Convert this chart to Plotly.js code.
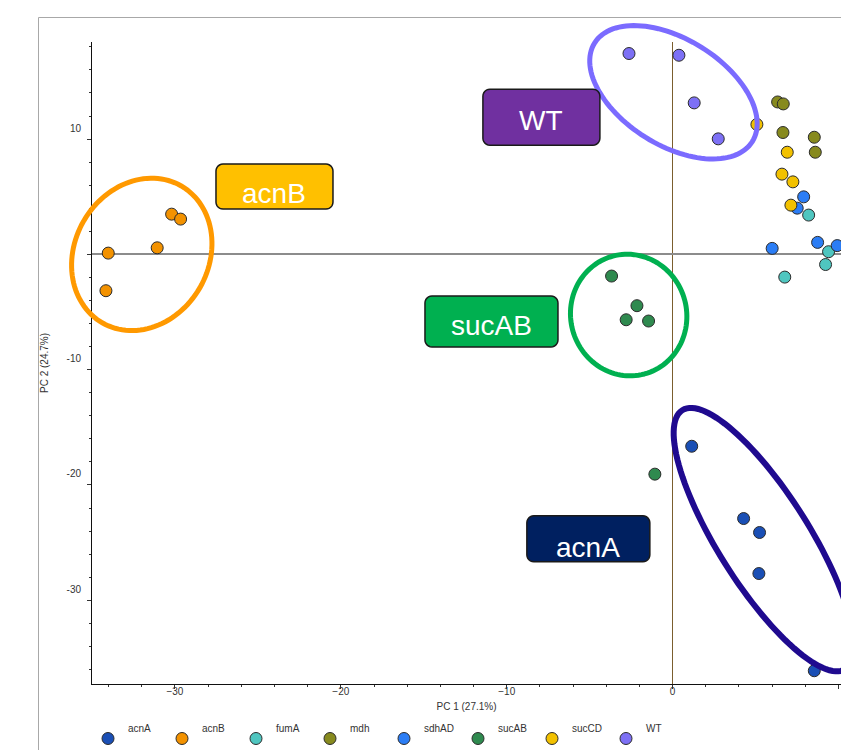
<!DOCTYPE html>
<html>
<head>
<meta charset="utf-8">
<script src="https://cdn.plot.ly/plotly-3.0.1.min.js"></script>
<style>
  html, body { margin: 0; padding: 0; background: #ffffff; }
  #chart { width: 841px; height: 750px; }
</style>
</head>
<body>
<div id="chart"></div>
<script>
// ---------------- DATA ----------------
const groups = ['acnA', 'acnB', 'fumA', 'mdh', 'sdhAD', 'sucAB', 'sucCD', 'WT'];

const acnA_x  = [1.15, 4.28, 5.24, 5.20, 8.54];
const acnA_y  = [-16.64, -22.91, -24.12, -27.68, -36.11];

const acnB_x  = [-30.20, -29.66, -31.07, -34.02, -34.16];
const acnB_y  = [3.49, 3.06, 0.57, 0.11, -3.15];

const fumA_x  = [8.20, 9.40, 9.22, 6.76];
const fumA_y  = [3.41, 0.23, -0.88, -1.97];

const mdh_x   = [6.33, 6.67, 6.65, 8.54, 8.60];
const mdh_y   = [13.22, 13.05, 10.57, 10.16, 8.86];

const sdhAD_x = [7.90, 7.51, 6.00, 8.74, 9.92];
const sdhAD_y = [4.99, 4.01, 0.52, 1.04, 0.76];

const sucAB_x = [-3.68, -2.15, -2.80, -1.45, -1.07];
const sucAB_y = [-1.88, -4.45, -5.67, -5.78, -19.06];

const sucCD_x = [5.08, 6.91, 6.59, 7.25, 7.13];
const sucCD_y = [11.27, 8.86, 6.96, 6.29, 4.27];

const WT_x    = [-2.63, 0.38, 1.30, 2.75];
const WT_y    = [17.42, 17.27, 13.14, 10.02];

const xTitle = 'PC 1 (27.1%)';
const yTitle = 'PC 2 (24.7%)';
const yTickVals = [-30, -20, -10, 0, 10];
const yTickText = ['-30', '-20', '-10', '', '10'];

// ---------------- STYLE ----------------
const groupColors = {
  acnA: '#1a4fb5', acnB: '#f39200', fumA: '#4fc6c0', mdh: '#878a1e',
  sdhAD: '#2b7df5', sucAB: '#2f8a4f', sucCD: '#f2c100', WT: '#7d70f5'
};
const groupX = { acnA: acnA_x, acnB: acnB_x, fumA: fumA_x, mdh: mdh_x, sdhAD: sdhAD_x, sucAB: sucAB_x, sucCD: sucCD_x, WT: WT_x };
const groupY = { acnA: acnA_y, acnB: acnB_y, fumA: fumA_y, mdh: mdh_y, sdhAD: sdhAD_y, sucAB: sucAB_y, sucCD: sucCD_y, WT: WT_y };

const W = 841, H = 750;
const margin = { l: 92, r: 0, t: 42, b: 66, pad: 0 };
const xRange = [-35, 10.15];
const yRange = [-37.26, 18.42];
const plotW = W - margin.l - margin.r;
const plotH = H - margin.t - margin.b;
const sx = plotW / (xRange[1] - xRange[0]); // px per x unit
const sy = plotH / (yRange[1] - yRange[0]); // px per y unit

const FONT = 'Liberation Sans, Arial, sans-serif';

// group ellipses: centre in data units, semi-axes in px, angle in degrees (screen, clockwise)
const ellipses = [
  { cx: -32.0, cy: 0.0,    a: 79,  b: 67,   angle: -60,  color: '#ff9900', width: 5 },
  { cx: 0.05,  cy: 14.06,  a: 93,  b: 53,   angle: 32,   color: '#7b6bff', width: 5 },
  { cx: -2.65, cy: -5.26,  a: 61,  b: 58,   angle: 75,   color: '#00b050', width: 5 },
  { cx: 5.50,  cy: -24.74, a: 153, b: 45.6, angle: 57.8, color: '#1f0a8f', width: 6 }
];

// group label boxes: centre in data units, size in px
const labels = [
  { text: 'WT',    cx: -7.91,  cy: 11.90,  w: 117, h: 56, fill: '#7030a0', dy: 3 },
  { text: 'acnB',  cx: -24.00, cy: 5.88,   w: 117, h: 45, fill: '#ffc000', dy: 7 },
  { text: 'sucAB', cx: -10.92, cy: -5.82,  w: 133, h: 51, fill: '#00b050', dy: 4 },
  { text: 'acnA',  cx: -5.08,  cy: -24.67, w: 123, h: 46, fill: '#002060', dy: 9 }
];

// data -> paper helpers (so that outlines are not clipped to the plot area)
const toPaperX = x => (x - xRange[0]) / (xRange[1] - xRange[0]);
const toPaperY = y => (y - yRange[0]) / (yRange[1] - yRange[0]);
const pxToPaperX = px => (px - margin.l) / plotW;
const pxToPaperY = py => (H - margin.b - py) / plotH;

function ellipsePath(e) {
  const th = e.angle * Math.PI / 180;
  let d = '';
  const n = 120;
  for (let i = 0; i <= n; i++) {
    const t = i / n * 2 * Math.PI;
    const px = e.a * Math.cos(t) * Math.cos(th) - e.b * Math.sin(t) * Math.sin(th);
    const py = e.a * Math.cos(t) * Math.sin(th) + e.b * Math.sin(t) * Math.cos(th);
    const x = toPaperX(e.cx + px / sx);
    const y = toPaperY(e.cy - py / sy);
    d += (i ? ' L' : 'M') + x.toFixed(6) + ',' + y.toFixed(6);
  }
  return d + ' Z';
}

function roundRectPath(l, r) {
  const hw = l.w / 2, hh = l.h / 2;
  const pts = [];
  const corners = [
    [ hw - r,  hh - r, 0],
    [-hw + r,  hh - r, 90],
    [-hw + r, -hh + r, 180],
    [ hw - r, -hh + r, 270]
  ];
  corners.forEach(c => {
    for (let k = 0; k <= 6; k++) {
      const ang = (c[2] + k * 15) * Math.PI / 180;
      pts.push([c[0] + r * Math.cos(ang), c[1] + r * Math.sin(ang)]);
    }
  });
  let d = '';
  pts.forEach((p, i) => {
    const x = l.cx + p[0] / sx;
    const y = l.cy + p[1] / sy;
    d += (i ? ' L' : 'M') + x.toFixed(5) + ',' + y.toFixed(5);
  });
  return d + ' Z';
}

// ---------------- TRACES ----------------
const traces = groups.map(g => ({
  type: 'scatter',
  mode: 'markers',
  name: g,
  x: groupX[g],
  y: groupY[g],
  marker: { size: 12, color: groupColors[g], line: { color: '#2b2b2b', width: 1 } },
  hoverinfo: 'x+y',
  cliponaxis: true
}));

// ---------------- SHAPES / ANNOTATIONS ----------------
const shapes = [];
const annotations = [];

// outer panel frame (left and top border)
shapes.push({ type: 'line', xref: 'paper', yref: 'paper', x0: pxToPaperX(38.5), x1: pxToPaperX(38.5), y0: pxToPaperY(17.5), y1: pxToPaperY(760), line: { color: '#a8a8a8', width: 1 }, layer: 'above' });
shapes.push({ type: 'line', xref: 'paper', yref: 'paper', x0: pxToPaperX(38.5), x1: pxToPaperX(860), y0: pxToPaperY(17.5), y1: pxToPaperY(17.5), line: { color: '#a8a8a8', width: 1 }, layer: 'above' });

ellipses.forEach(e => {
  shapes.push({ type: 'path', xref: 'paper', yref: 'paper', path: ellipsePath(e), line: { color: e.color, width: e.width }, fillcolor: 'rgba(0,0,0,0)', layer: 'above' });
});

labels.forEach(l => {
  shapes.push({ type: 'path', xref: 'x', yref: 'y', path: roundRectPath(l, 7), line: { color: '#1a1a1a', width: 1.5 }, fillcolor: l.fill, layer: 'above' });
  annotations.push({
    xref: 'x', yref: 'y', x: l.cx, y: l.cy, yshift: -l.dy,
    text: l.text, showarrow: false,
    font: { family: FONT, size: 28, color: '#ffffff' },
    xanchor: 'center', yanchor: 'middle'
  });
});

const layout = {
  width: W, height: H,
  margin: margin,
  paper_bgcolor: '#ffffff',
  plot_bgcolor: '#ffffff',
  font: { family: FONT, size: 10, color: '#333333' },
  showlegend: true,
  legend: {
    orientation: 'h',
    xref: 'container', yref: 'container',
    x: 88 / W, xanchor: 'left',
    y: 1 - 724 / H, yanchor: 'top',
    entrywidth: 29, entrywidthmode: 'pixels',
    font: { family: FONT, size: 10, color: '#333333' },
    bgcolor: 'rgba(0,0,0,0)',
    itemclick: false
  },
  xaxis: {
    range: xRange,
    autorange: false,
    showgrid: false,
    zeroline: true, zerolinecolor: '#7b5e2e', zerolinewidth: 1.6,
    showline: true, linecolor: '#111111', linewidth: 1,
    ticks: 'outside', ticklen: 4, tickwidth: 1, tickcolor: '#333333',
    tickmode: 'linear', tick0: 0, dtick: 10,
    minor: { tickmode: 'linear', tick0: 0, dtick: 2, ticks: 'outside', ticklen: 2, tickcolor: '#333333', showgrid: false },
    tickfont: { family: FONT, size: 10, color: '#333333' },
    ticklabelstandoff: -6,
    title: { text: xTitle, font: { family: FONT, size: 10, color: '#333333' }, standoff: 6 },
    automargin: false,
    fixedrange: true
  },
  yaxis: {
    range: yRange,
    autorange: false,
    showgrid: false,
    zeroline: true, zerolinecolor: '#8c8c8c', zerolinewidth: 2,
    showline: true, linecolor: '#111111', linewidth: 1,
    ticks: 'outside', ticklen: 4, tickwidth: 1, tickcolor: '#333333',
    tickmode: 'array', tickvals: yTickVals, ticktext: yTickText,
    minor: { tickmode: 'linear', tick0: 0, dtick: 2, ticks: 'outside', ticklen: 2, tickcolor: '#333333', showgrid: false },
    tickfont: { family: FONT, size: 10, color: '#333333' },
    ticklabelshift: -11,
    ticklabelstandoff: 4,
    title: { text: yTitle, font: { family: FONT, size: 10, color: '#333333' }, standoff: 16 },
    automargin: false,
    fixedrange: true
  },
  shapes: shapes,
  annotations: annotations
};

Plotly.newPlot('chart', traces, layout, { displayModeBar: false, staticPlot: true }).then(gd => {
  // legend labels sit slightly above their symbols in the reference
  gd.querySelectorAll('.legend .legendtext').forEach(t => t.setAttribute('transform', 'translate(0,-10)'));
});
</script>
</body>
</html>
